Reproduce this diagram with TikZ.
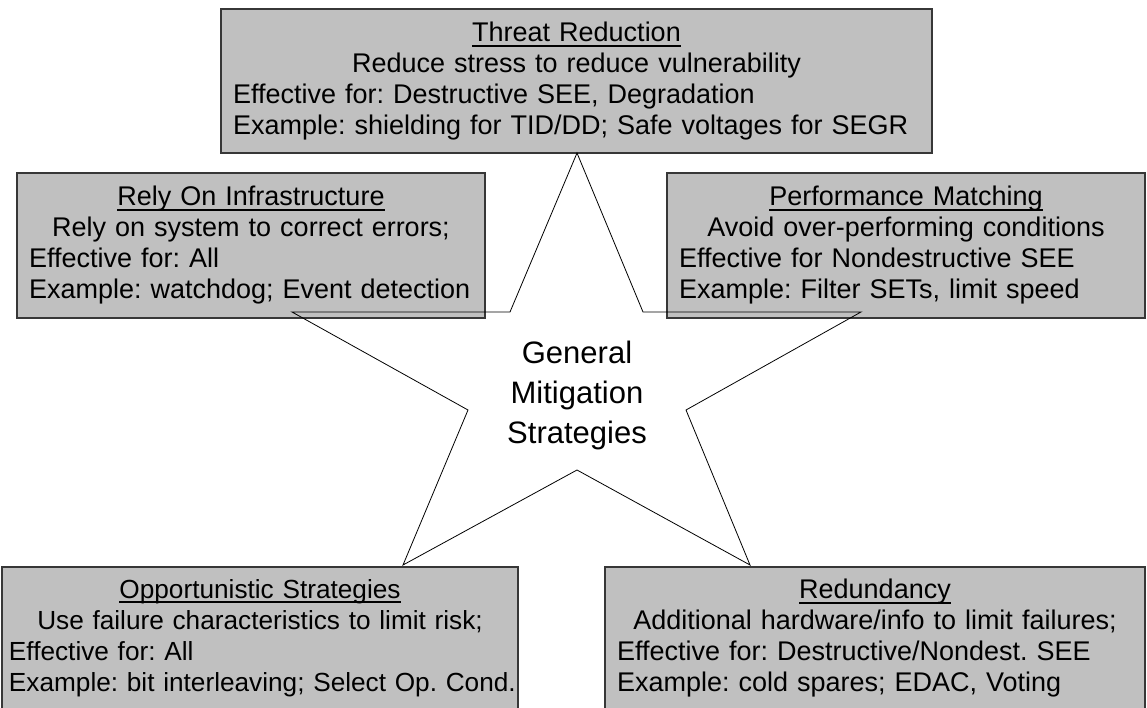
\documentclass[tikz,border=0pt]{standalone}
\usepackage{fontspec}
\setmainfont{Liberation Sans}
\frenchspacing
\definecolor{boxgray}{RGB}{192,192,192}
\definecolor{boxedge}{RGB}{55,55,55}
% underline at a fixed depth below the baseline
\newcommand{\ulin}[1]{\setbox0\hbox{#1}\rlap{\rule[-0.19em]{\wd0}{0.07em}}\box0}
% a line centred across the text width of a box
\newcommand{\ctrline}[1]{\hfill\mbox{#1}\hfill\null}
\tikzset{
  stratbox/.style={draw=boxedge, line width=1.1pt, fill=boxgray,
    inner xsep=12pt, inner ysep=0pt, align=left, anchor=center,
    font=\fontsize{27}{31}\selectfont},
  startitle/.style={align=center, font=\fontsize{31}{40}\selectfont},
  starline/.style={draw=black, line width=0.8pt, line join=miter}
}
\begin{document}
\begin{tikzpicture}[x=1pt, y=-1pt]
\useasboundingbox (0,0) rectangle (1147,708);
\fill[white] (0,0) rectangle (1147,708);

\node[stratbox, text width=687pt, minimum height=144pt] (threat) at (576.5,81)
  {\ctrline{\ulin{Threat Reduction}}\\
   \ctrline{Reduce stress to reduce vulnerability}\\
   \mbox{Effective for: Destructive SEE, Degradation}\\
   \mbox{Example: shielding for TID/DD; Safe voltages for SEGR}};

\node[stratbox, text width=444pt, minimum height=145pt] (rely) at (251,245.5)
  {\ctrline{\ulin{Rely On Infrastructure}}\\
   \ctrline{Rely on system to correct errors;}\\
   \mbox{Effective for: All}\\
   \mbox{Example: watchdog; Event detection}};

\node[stratbox, text width=454pt, minimum height=145pt] (perf) at (906,245.5)
  {\ctrline{\ulin{Performance Matching}}\\
   \ctrline{Avoid over-performing conditions}\\
   \mbox{Effective for Nondestructive SEE}\\
   \mbox{Example: Filter SETs, limit speed}};

\node[stratbox, inner xsep=7pt, text width=502pt, minimum height=142pt,
      font=\fontsize{26.2}{31}\selectfont] (opp) at (260,638)
  {\ctrline{\ulin{Opportunistic Strategies}}\\
   \ctrline{Use failure characteristics to limit risk;}\\
   \mbox{Effective for: All}\\
   \mbox{Example: bit interleaving; Select Op. Cond.}};

\node[stratbox, text width=516pt, minimum height=142pt] (red) at (875,638)
  {\ctrline{\ulin{Redundancy}}\\
   \ctrline{Additional hardware/info to limit failures;}\\
   \mbox{Effective for: Destructive/Nondest. SEE}\\
   \mbox{Example: cold spares; EDAC, Voting}};

% five-pointed star outline, drawn over the boxes
\draw[starline] (577,153) -- (643,312) -- (861,312) -- (686,410) -- (750,565)
  -- (577,470) -- (403,565) -- (468,410) -- (292,312) -- (510,312) -- cycle;

\node[startitle] (core) at (577,395) {General\\Mitigation\\Strategies};
\end{tikzpicture}
\end{document}
